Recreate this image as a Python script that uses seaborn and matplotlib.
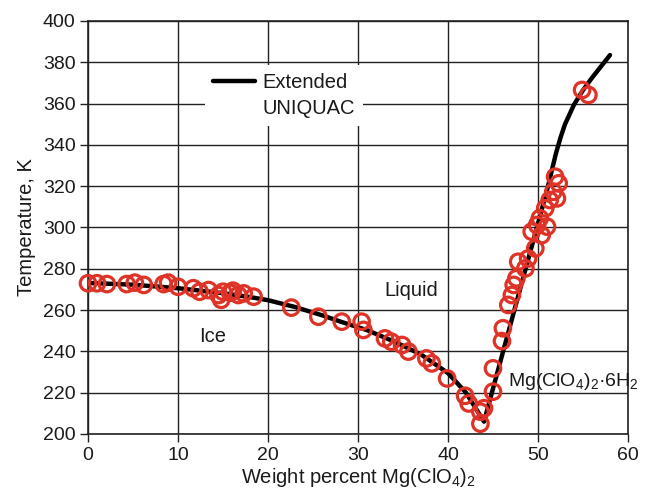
import numpy as np
import pandas as pd
import matplotlib
matplotlib.use("Agg")
import matplotlib.pyplot as plt
from matplotlib.lines import Line2D
import seaborn as sns

# Experimental solubility / freezing points
exp_wt = [0.0, 1.0, 2.1, 4.3, 5.2, 6.2, 8.4, 8.9, 10.0, 11.7, 12.4, 13.4, 14.5, 14.8,
          15.0, 15.8, 16.1, 16.7, 17.3, 18.4, 22.6, 25.6, 28.2, 30.4, 30.6, 33.0,
          33.7, 34.9, 35.6, 37.6, 38.2, 39.9, 41.9, 42.3, 43.6, 43.6, 44.0,
          45.0, 45.0, 46.0, 46.1, 46.7, 47.1, 47.3, 47.6, 47.8, 48.6, 48.9, 49.3,
          49.7, 49.9, 50.2, 50.4, 51.0, 50.8, 51.3, 51.7, 52.1, 52.3, 51.9, 54.9, 55.6]
exp_T = [273.0, 273.0, 272.6, 272.6, 273.3, 272.2, 272.6, 273.3, 271.3, 270.6, 268.9,
         269.7, 267.3, 265.0, 268.9, 268.4, 269.4, 267.3, 268.1, 266.5, 261.2, 256.8,
         254.4, 254.4, 250.4, 246.3, 244.7, 243.1, 239.9, 236.6, 234.2, 226.9, 218.5,
         214.8, 210.8, 205.0, 212.5,
         220.5, 231.8, 245.0, 251.2, 262.5, 267.3, 272.2, 275.4, 283.4, 280.2, 285.0,
         298.0, 289.9, 301.2, 304.5, 296.3, 300.4, 309.3, 313.3, 317.3, 314.1, 321.4,
         324.6, 366.6, 364.2]

# Extended UNIQUAC model curve (ice branch, then hexahydrate branch)
model_wt = [0, 5, 10, 15, 18, 20, 23, 26, 28, 31, 34, 37, 40, 42, 44,
            45, 46, 47, 48, 49, 50, 51, 51.5, 52, 52.5, 53, 54, 55, 56, 57, 58]
model_T = [273.15, 272.3, 270.6, 268.2, 266.3, 264.8, 261.5, 257.5, 254.5, 250.3,
           244.8, 238.5, 229.5, 220.0, 206.0,
           222.0, 238.0, 254.0, 270.0, 286.0, 302.0, 318.0, 327.0, 336.0, 343.5,
           350.0, 359.5, 366.5, 372.5, 378.0, 383.5]

x_ticks = [0, 10, 20, 30, 40, 50, 60]
y_ticks = list(range(200, 401, 20))

sns.set_theme(style="white")
plt.rcParams["font.family"] = ["Liberation Sans", "DejaVu Sans"]
plt.rcParams["mathtext.fontset"] = "custom"
plt.rcParams["mathtext.rm"] = "Liberation Sans"
plt.rcParams["mathtext.it"] = "Liberation Sans:italic"
plt.rcParams["mathtext.default"] = "regular"

ink = "#222222"
txt = "#1a1a1a"
red = "#de3326"
fs = 14.5

fig = plt.figure(figsize=(6.48, 4.99), dpi=100)
ax = fig.add_axes([88 / 648, 65 / 499, 540 / 648, 413 / 499])

model = pd.DataFrame({"wt": model_wt, "T": model_T})
exp = pd.DataFrame({"wt": exp_wt, "T": exp_T})

sns.lineplot(data=model, x="wt", y="T", color="black", lw=3.2, estimator=None,
             sort=False, ax=ax, zorder=3)
sns.scatterplot(data=exp, x="wt", y="T", marker="o", s=125, facecolors="none",
                edgecolors=red, linewidths=2.3, ax=ax, zorder=4, clip_on=False)

ax.set_xlim(0, 60)
ax.set_ylim(200, 400)
ax.set_xticks(x_ticks)
ax.set_yticks(y_ticks)
ax.grid(True, color=ink, lw=1.0)
ax.set_axisbelow(True)
for s in ax.spines.values():
    s.set_color(ink)
    s.set_linewidth(1.2)
ax.tick_params(axis="both", direction="out", length=6, width=1.0, color=ink,
               labelsize=14, labelcolor=txt, pad=3, left=True, bottom=True)

ax.set_xlabel("Weight percent Mg(ClO$_4$)$_2$", fontsize=fs, color=txt, labelpad=2)
ax.set_ylabel("Temperature, K", fontsize=fs, color=txt, labelpad=5)

ax.text(13.8, 247, "Ice", fontsize=fs, ha="center", va="center", color=txt)
ax.text(35.9, 269.5, "Liquid", fontsize=fs, ha="center", va="center", color=txt)
ax.text(46.7, 225.5, "Mg(ClO$_4$)$_2$·6H$_2$", fontsize=14, ha="left", va="center",
        color=txt, clip_on=False)

handles = [Line2D([], [], color="black", lw=3.2),
           Line2D([], [], color="none", lw=0)]
leg = ax.legend(handles, ["Extended", "UNIQUAC"], loc="upper left",
                bbox_to_anchor=(0.2167, 0.8935), borderaxespad=0, frameon=True,
                fancybox=False, framealpha=1, facecolor="white", edgecolor="none",
                fontsize=fs, handlelength=2.1, handletextpad=0.35, borderpad=0.4,
                labelspacing=0.35)
for t in leg.get_texts():
    t.set_color(txt)
leg.set_zorder(5)

fig.savefig("out.png", dpi=100)
